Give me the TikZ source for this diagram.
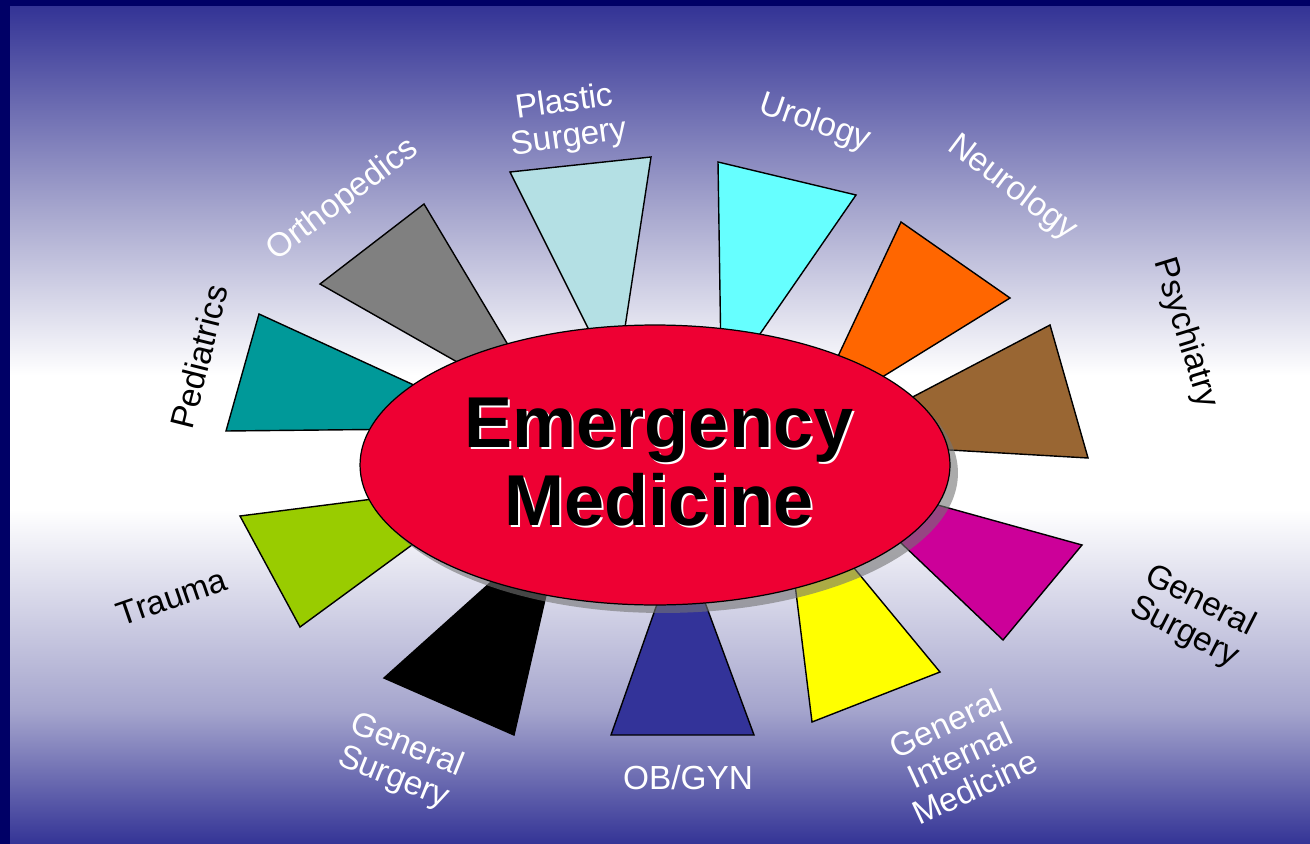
\documentclass[tikz,border=0pt]{standalone}
\usepackage{fontspec}
\setmainfont{Liberation Sans}
\usetikzlibrary{shapes.geometric,shadows}

\definecolor{slideedge}{RGB}{0,0,102}
\definecolor{bgblue}{RGB}{52,52,150}
\definecolor{bglight}{RGB}{165,165,205}
\definecolor{emred}{RGB}{238,0,51}
\definecolor{plasticc}{RGB}{180,224,228}
\definecolor{orthoc}{RGB}{128,128,128}
\definecolor{pedsc}{RGB}{0,153,153}
\definecolor{uroc}{RGB}{102,255,255}
\definecolor{neuroc}{RGB}{255,102,0}
\definecolor{psychc}{RGB}{153,102,51}
\definecolor{gsrc}{RGB}{204,0,153}
\definecolor{gimc}{RGB}{255,255,0}
\definecolor{obc}{RGB}{51,51,153}
\definecolor{gslc}{RGB}{0,0,0}
\definecolor{traumac}{RGB}{153,204,0}

\pgfdeclareverticalshading{slidebg}{100bp}{color(0bp)=(bgblue); color(25bp)=(bgblue);
  color(33bp)=(bglight); color(45bp)=(white); color(53bp)=(white);
  color(63bp)=(bglight); color(75bp)=(bgblue); color(100bp)=(bgblue)}

\begin{document}
\begin{tikzpicture}[
  x=0.02cm, y=-0.02cm,
  wedge/.style={draw=black, line width=0.8pt, line join=miter},
  hub/.style={ellipse, draw=black, line width=0.7pt, fill=emred,
    minimum width=11.8cm, minimum height=5.6cm, inner sep=0pt,
    drop shadow={shadow xshift=0.16cm, shadow yshift=-0.16cm,
      fill=black!55, opacity=0.6}},
  hubtext/.style={font=\bfseries\fontsize{41}{44}\selectfont, align=center, inner sep=0pt},
  lab/.style={font=\fontsize{19}{20}\selectfont, align=center, inner sep=0pt},
  onblue/.style={lab, text=white},
  onwhite/.style={lab, text=black}
]
  % slide background
  \fill[slideedge] (0,0) rectangle (1310,844);
  \shade[shading=slidebg] (10,7) rectangle (1310,844);

  % wedges round the hub
  \draw[wedge, fill=plasticc] (510,172) -- (651,157) -- (620,360) -- (604,360) -- cycle;
  \draw[wedge, fill=orthoc] (320,284) -- (424,204) -- (523,370) -- (480,375) -- cycle;
  \draw[wedge, fill=pedsc] (259,314) -- (440,397) -- (420,429) -- (226,431) -- cycle;
  \draw[wedge, fill=uroc] (718,162) -- (856,195) -- (742,360) -- (721,360) -- cycle;
  \draw[wedge, fill=neuroc] (901,222) -- (1010,298) -- (858,392) -- (825,384) -- cycle;
  \draw[wedge, fill=psychc] (1050,325) -- (1088,458) -- (915,448) -- (884,412) -- cycle;
  \draw[wedge, fill=gsrc] (880,489) -- (1082,545) -- (1003,640) -- (880,523) -- cycle;
  \draw[wedge, fill=gimc] (792,560) -- (840,551) -- (940,672) -- (812,722) -- cycle;
  \draw[wedge, fill=obc] (669,570) -- (693,570) -- (754,735) -- (611,735) -- cycle;
  \draw[wedge, fill=gslc] (519,557) -- (554,560) -- (514,735) -- (384,678) -- cycle;
  \draw[wedge, fill=traumac] (240,516) -- (420,493) -- (446,520) -- (300,627) -- cycle;

  % hub
  \node[hub] (core) at (655,465) {};
  \node[hubtext, text=white] (corelight) at (661,464) {Emergency\\Medicine};
  \node[hubtext, text=black] (coretext) at (659,462) {Emergency\\Medicine};

  % labels
  \node[onblue, rotate=8] (plastic) at (567,121) {Plastic\\Surgery};
  \node[onblue, rotate=37] (ortho) at (343,200) {Orthopedics};
  \node[onwhite, rotate=76] (peds) at (199,357) {Pediatrics};
  \node[onblue, rotate=-19] (uro) at (815,123) {Urology};
  \node[onblue, rotate=-37] (neuro) at (1012,188) {Neurology};
  \node[onwhite, rotate=-73] (psych) at (1185,333) {Psychiatry};
  \node[onwhite, rotate=-27] (gsright) at (1192,617) {General\\Surgery};
  \node[onblue, rotate=25] (gim) at (960,755) {General\\Internal\\Medicine};
  \node[onblue] (obgyn) at (688,778) {OB/GYN};
  \node[onblue, rotate=-22] (gsleft) at (400,762) {General\\Surgery};
  \node[onwhite, rotate=19] (trauma) at (172,597) {Trauma};
\end{tikzpicture}
\end{document}
